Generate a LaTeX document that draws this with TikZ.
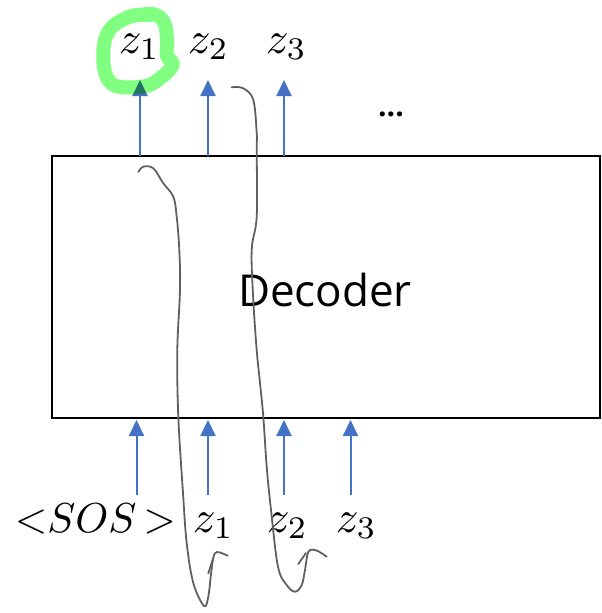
\documentclass[tikz,border=0pt]{standalone}
\usepackage{fontspec}
\setsansfont{Open Sans}
\usetikzlibrary{arrows.meta}
\definecolor{arrowblue}{HTML}{4472C4}
\definecolor{hlgreen}{HTML}{80FF80}
\definecolor{pen}{HTML}{606060}
\begin{document}
\begin{tikzpicture}[x=1pt,y=-1pt,
  bluearrow/.style={draw=arrowblue,line width=2pt,-{Triangle[width=15pt,length=16pt]}},
  zlabel/.style={anchor=base west,inner sep=0pt,scale=4.5},
  penline/.style={draw=pen,line width=1.8pt,line cap=round,line join=round},
  decbox/.style={draw=black,line width=2.5pt,inner sep=0pt}]
\useasboundingbox (0,0) rectangle (602,613);
% decoder box
\node[decbox,minimum width=548pt,minimum height=262pt] (dec) at (326,287) {};
\node[font=\sffamily\fontsize{44}{50}\selectfont] (dectext) at (325,290) {Decoder};
% top arrows
\coordinate (t1s) at (140,156); \coordinate (t1e) at (140,80);
\coordinate (t2s) at (208,156); \coordinate (t2e) at (208,80);
\coordinate (t3s) at (284,156); \coordinate (t3e) at (284,80);
\draw[bluearrow] (t1s) -- (t1e);
\draw[bluearrow] (t2s) -- (t2e);
\draw[bluearrow] (t3s) -- (t3e);
% bottom arrows
\coordinate (b0s) at (136.5,495); \coordinate (b0e) at (136.5,420);
\coordinate (b1s) at (208,495); \coordinate (b1e) at (208,420);
\coordinate (b2s) at (284,495); \coordinate (b2e) at (284,420);
\coordinate (b3s) at (350.5,495); \coordinate (b3e) at (350.5,420);
\draw[bluearrow] (b0s) -- (b0e);
\draw[bluearrow] (b1s) -- (b1e);
\draw[bluearrow] (b2s) -- (b2e);
\draw[bluearrow] (b3s) -- (b3e);
% top labels
\node[zlabel] (oz1) at (118,53) {$z_1$};
\node[zlabel] (oz2) at (187,53) {$z_2$};
\node[zlabel] (oz3) at (265,53) {$z_3$};
\node[font=\sffamily\bfseries\fontsize{30}{34}\selectfont] (dots) at (391,114) {...};
% bottom labels
\node[zlabel,scale=0.93] (sos) at (14,532) {${<}SOS\,{>}$};
\node[zlabel] (iz1) at (192,532) {$z_1$};
\node[zlabel] (iz2) at (266,532) {$z_2$};
\node[zlabel] (iz3) at (335,532) {$z_3$};
% green highlight
\begin{scope}[blend mode=multiply]
\draw[hlgreen,line width=14pt,line cap=round,line join=round]
  plot[smooth,tension=0.6] coordinates {(128,17) (152,14) (164,22) (167,40) (167,56) (173,64) (163,76) (146,86) (116,86) (105,72) (104,45) (112,27) (132,16) (150,15)};
\end{scope}
% hand-drawn curves
\draw[penline] plot[smooth,tension=0.6] coordinates {(138.3,172) (143.3,166.7) (153.3,168.3) (163.3,183.3) (173.3,196.7) (176.7,216.7) (179.3,250) (180,290) (177.3,350) (178.3,416.7) (183,493) (186.7,543) (193.3,583) (204,606) (208.3,596.7) (210.7,576.7) (213.3,558) (217,552) (227.7,555.7)};
\draw[penline] (208.3,573.3) -- (213.3,558);
\draw[penline] plot[smooth,tension=0.6] coordinates {(231.7,87.3) (243.3,88.3) (253.3,100) (256.7,133.3) (256.7,150) (256.7,216.7) (251.7,250) (253.3,300) (256.7,350) (260,383) (263.3,416.7) (266.7,466.7) (271,510) (278,566.7) (286.7,585) (295,591.7) (301.7,585) (305,570) (308.3,552) (315,550) (321.7,553.3) (326.7,556.7)};
\draw[penline] (298.3,564) -- (306,553);
\end{tikzpicture}
\end{document}
